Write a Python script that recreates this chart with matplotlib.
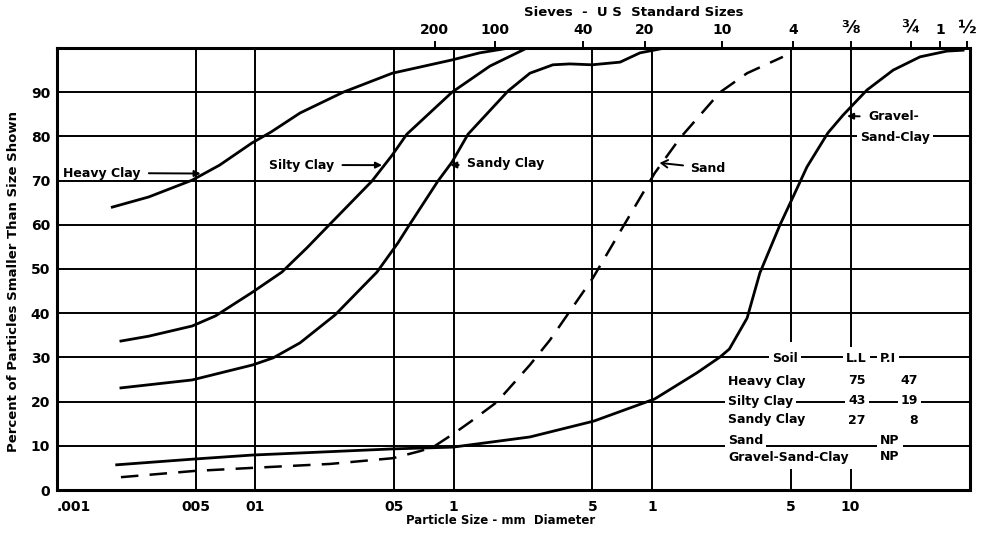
import matplotlib
matplotlib.use("Agg")
import matplotlib.pyplot as plt
from matplotlib.ticker import NullLocator

# percent finer vs particle size (mm)
heavy_clay_mm = [0.0019, 0.0029, 0.0048, 0.0066, 0.0096, 0.0120, 0.0168, 0.0277, 0.049, 0.098, 0.135, 0.19]
heavy_clay_pct = [64.0, 66.3, 70.1, 73.5, 78.5, 81.0, 85.3, 90.0, 94.3, 97.3, 98.9, 100.0]

silty_clay_mm = [0.0021, 0.0029, 0.0048, 0.0063, 0.0097, 0.0136, 0.0182, 0.023, 0.0387,
                 0.049, 0.058, 0.098, 0.152, 0.234]
silty_clay_pct = [33.7, 34.8, 37.1, 39.4, 44.8, 49.3, 54.8, 59.5, 69.9,
                  75.8, 80.5, 90.0, 95.9, 100.0]

sandy_clay_mm = [0.0021, 0.0048, 0.0097, 0.0123, 0.0168, 0.0252, 0.041, 0.0523, 0.0588, 0.0832, 0.098,
                 0.118, 0.188, 0.242, 0.316, 0.385, 0.497, 0.689, 0.868, 1.16]
sandy_clay_pct = [23.1, 24.9, 28.3, 29.9, 33.3, 39.6, 49.3, 55.9, 59.5, 69.9, 74.2,
                  80.5, 90.3, 94.3, 96.2, 96.4, 96.2, 96.8, 98.9, 100.0]

sand_mm = [0.0021, 0.0049, 0.0096, 0.0238, 0.0494, 0.0676, 0.0786, 0.101, 0.121, 0.165,
           0.242, 0.305, 0.503, 0.747, 1.03, 1.38, 2.20, 3.01, 4.56]
sand_pct = [2.9, 4.3, 5.0, 5.9, 7.2, 8.8, 9.7, 12.9, 15.4, 19.9,
            28.3, 33.9, 48.0, 61.1, 71.7, 79.6, 90.0, 94.3, 98.0]

gravel_mm = [0.0020, 0.0049, 0.0096, 0.0494, 0.099, 0.242, 0.509, 1.03, 1.68, 2.20, 2.45,
             3.01, 3.49, 4.41, 5.13, 6.03, 7.69, 9.16, 12.1, 16.4, 22.4, 30.6, 36.9]
gravel_pct = [5.7, 7.0, 7.9, 9.3, 9.7, 12.0, 15.6, 20.6, 26.5, 30.1, 31.9,
              38.9, 49.1, 60.0, 66.3, 73.1, 80.8, 84.8, 90.5, 95.0, 98.0, 99.3, 99.5]

# axes
bottom_ticks = [0.001, 0.005, 0.01, 0.05, 0.1, 0.5, 1, 5, 10]
bottom_labels = [".001", "005", "01", "05", "1", "5", "1", "5", "10"]
sieve_mm = [0.080, 0.161, 0.448, 0.92, 2.25, 5.13, 10.05, 20.1, 28.2, 38.6]
sieve_labels = ["200", "100", "40", "20", "10", "4", "\u215c", "\u00be", "1", "\u00bd"]
pct_ticks = [0, 10, 20, 30, 40, 50, 60, 70, 80, 90]

# soil table
soils = ["Heavy Clay", "Silty Clay", "Sandy Clay", "Sand", "Gravel-Sand-Clay"]
liquid_limit = ["75", "43", "27", "", ""]
plasticity = ["47", "19", "8", "NP", "NP"]

W, H = 982, 536
L, R, T, B = 57, 970, 48, 490


def fx(px):
    return (px - L) / (R - L)


def fy(py):
    return (B - py) / (B - T)


plt.rcParams["font.family"] = "DejaVu Sans"
plt.rcParams["font.weight"] = "bold"

fig = plt.figure(figsize=(W / 100, H / 100), dpi=100)
ax = fig.add_axes([L / W, (H - B) / H, (R - L) / W, (B - T) / H])
ax.set_xscale("log")
ax.set_xlim(0.001, 40)
ax.set_ylim(0, 100)

grid = dict(color="black", lw=1.4, zorder=1)
ax.hlines(pct_ticks[1:], 0.001, 40, **grid)
for x in bottom_ticks[1:]:
    if x in (5, 10):
        top_start = 33.5 if x == 5 else 32.3
        ax.vlines(x, 0, 4.7, **grid)
        ax.vlines(x, top_start, 100, **grid)
    else:
        ax.vlines(x, 0, 100, **grid)

lw = 2.0
ax.plot(heavy_clay_mm, heavy_clay_pct, color="black", lw=lw, zorder=3)
ax.plot(silty_clay_mm, silty_clay_pct, color="black", lw=lw, zorder=3)
ax.plot(sandy_clay_mm, sandy_clay_pct, color="black", lw=lw, zorder=3)
ax.plot(gravel_mm, gravel_pct, color="black", lw=lw, zorder=3)
ax.plot(sand_mm, sand_pct, color="black", lw=1.8, ls=(0, (7, 4.5)), zorder=3)

ax.set_xticks(bottom_ticks)
ax.set_xticklabels(bottom_labels)
ax.xaxis.set_minor_locator(NullLocator())
ax.set_yticks(pct_ticks)
ax.tick_params(axis="both", length=0, labelsize=10)
ax.tick_params(axis="x", pad=7)
ax.tick_params(axis="y", pad=5)
ax.get_xticklabels()[0].set_horizontalalignment("left")
for s in ax.spines.values():
    s.set_linewidth(2.2)

top = ax.twiny()
top.set_xscale("log")
top.set_xlim(ax.get_xlim())
top.set_xticks(sieve_mm)
top.set_xticklabels(sieve_labels)
top.xaxis.set_minor_locator(NullLocator())
top.tick_params(axis="x", direction="out", length=5, width=1.4, labelsize=10, pad=3)
for lab in top.get_xticklabels():
    if lab.get_text() in ("\u215c", "\u00be", "\u00bd"):
        lab.set_fontsize(13)
for s in top.spines.values():
    s.set_visible(False)

fig.text(0.5 * (520 + 748) / W, 1 - 13 / H, "Sieves  -  U S  Standard Sizes",
         ha="center", va="center", fontsize=9.5)
fig.text(501 / W, 1 - 521 / H, "Particle Size - mm  Diameter",
         ha="center", va="center", fontsize=8.5)
fig.text(14 / W, 1 - 282 / H, "Percent of Particles Smaller Than Size Shown",
         rotation=90, ha="center", va="center", fontsize=9.5)

# curve labels
fs = 9
head = dict(arrowstyle="-|>", color="black", lw=1.4, shrinkA=4, shrinkB=0, mutation_scale=9)
ax.annotate("Heavy Clay", xy=(0.0053, 71.6), xytext=(fx(63), fy(173)), textcoords="axes fraction",
            ha="left", va="center", fontsize=fs, arrowprops=head, zorder=5)
ax.annotate("Silty Clay", xy=(0.0435, 73.5), xytext=(fx(269), fy(165)), textcoords="axes fraction",
            ha="left", va="center", fontsize=fs, arrowprops=head, zorder=5)
ax.annotate("Sandy Clay", xy=(0.096, 73.5), xytext=(fx(467), fy(164)), textcoords="axes fraction",
            ha="left", va="center", fontsize=fs, arrowprops=head, zorder=5)
ax.annotate("Sand", xy=(1.09, 74.0), xytext=(fx(690), fy(168)), textcoords="axes fraction",
            ha="left", va="center", fontsize=fs, zorder=5,
            arrowprops=dict(arrowstyle="->,head_length=0.5,head_width=0.3", color="black",
                            lw=1.4, shrinkA=3, shrinkB=0))
white = dict(boxstyle="square,pad=0.25", fc="white", ec="none")
ax.annotate("Gravel-", xy=(9.6, 84.6), xytext=(fx(868), fy(117)), textcoords="axes fraction",
            ha="left", va="center", fontsize=fs, arrowprops=head, zorder=5)
ax.text(fx(860), fy(137), "Sand-Clay", transform=ax.transAxes, ha="left", va="center",
        fontsize=fs, bbox=white, zorder=5)

# soil / L.L / P.I table
tab = dict(transform=ax.transAxes, va="center", fontsize=fs, bbox=white, zorder=5)
ax.text(fx(785), fy(358), "Soil", ha="center", **tab)
ax.text(fx(856), fy(358), "L.L", ha="center", **tab)
ax.text(fx(888), fy(358), "P.I", ha="center", **tab)
row_y = [381, 401, 420, 441, 457]
for name, ll, pi, py in zip(soils, liquid_limit, plasticity, row_y):
    ax.text(fx(728), fy(py), name, ha="left", **tab)
    if ll:
        ax.text(fx(857), fy(py), ll, ha="center", **tab)
    if pi == "NP":
        ax.text(fx(890), fy(py), pi, ha="center", **tab)
    else:
        ax.text(fx(918), fy(py), pi, ha="right", **tab)

fig.savefig("out.png", dpi=100)
